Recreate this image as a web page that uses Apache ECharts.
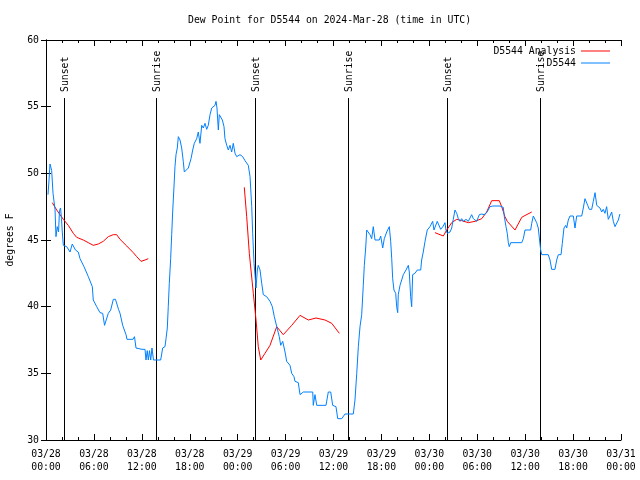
<!DOCTYPE html>
<html>
<head>
<meta charset="utf-8">
<script src="https://cdn.jsdelivr.net/npm/echarts@6/dist/echarts.min.js"></script>
<style>html,body{margin:0;padding:0;background:#fff;}#c{width:640px;height:480px;}</style>
</head>
<body>
<div id="c"></div>
<script>
// hours since 2024-03-28 00:00 UTC, dew point (F)
const obsHours = [0.25,0.38,0.50,0.63,0.71,0.88,1.13,1.25,1.41,1.57,1.69,1.82,1.94,2.04,2.17,2.59,3.01,3.29,3.51,3.69,4.04,4.26,4.47,4.76,4.95,5.30,5.38,5.51,5.80,5.92,6.35,6.76,7.10,7.33,7.58,7.80,8.10,8.43,8.70,8.85,9.08,9.27,9.60,10.02,10.14,10.89,11.08,11.27,12.02,12.40,12.52,12.68,12.81,12.96,13.11,13.27,13.46,14.36,14.61,14.90,15.03,15.19,15.31,15.44,15.61,15.74,15.86,16.03,16.15,16.28,16.44,16.57,16.78,16.99,17.19,17.32,17.53,17.82,18.03,18.16,18.37,18.57,18.87,19.07,19.28,19.50,19.70,19.91,20.12,20.32,20.54,20.75,20.95,21.16,21.29,21.41,21.58,21.70,21.91,22.08,22.29,22.41,22.63,22.83,23.04,23.25,23.45,23.67,23.88,24.29,24.63,24.92,25.13,25.33,25.55,25.76,25.88,26.05,26.17,26.30,26.46,26.58,26.80,27.01,27.21,27.63,28.05,28.34,28.59,28.89,29.21,29.39,29.64,29.93,30.14,30.34,30.55,30.77,31.05,31.18,31.59,31.81,32.02,32.22,33.06,33.40,33.47,33.68,33.90,35.06,35.35,35.65,35.90,36.31,36.53,37.03,37.44,38.48,38.69,38.91,39.11,39.32,39.53,39.73,39.86,40.03,40.16,40.36,40.57,40.78,40.98,41.20,41.73,41.91,42.16,42.36,42.66,42.99,43.16,43.29,43.41,43.57,43.79,43.91,44.04,44.11,44.33,44.54,44.74,45.08,45.37,45.49,45.66,45.79,45.91,46.20,46.49,46.92,47.04,47.24,47.46,47.74,48.08,48.42,48.58,48.99,49.21,49.42,49.75,49.96,50.08,50.25,50.59,50.80,51.00,51.21,51.43,51.63,51.84,52.05,52.25,52.59,52.88,53.09,53.30,53.51,53.72,53.93,54.26,54.56,54.85,55.18,55.60,55.93,56.85,57.06,57.26,57.39,57.60,57.76,57.89,58.01,58.19,59.57,59.77,59.98,60.69,60.82,61.02,61.23,61.44,61.64,61.86,61.94,62.07,62.89,63.11,63.32,63.73,63.95,64.15,64.49,64.65,64.86,65.08,65.20,65.40,65.61,66.03,66.24,66.45,67.08,67.28,67.49,67.70,67.83,68.03,68.33,68.53,68.75,68.96,69.16,69.37,69.58,69.78,69.99,70.20,70.41,70.62,70.83,71.04,71.25,71.46,71.66,71.87];
const obsValues = [48.4,49.5,50.7,50.4,50.2,48.5,47.3,45.25,46.0,45.6,47.2,47.4,46.6,45.6,44.6,44.5,44.1,44.7,44.7,44.25,44.1,43.6,43.6,43.0,43.0,42.25,42.4,42.25,41.5,40.5,40.0,39.55,39.5,38.6,38.6,39.5,39.75,40.55,40.55,40.5,39.8,39.5,38.6,37.9,37.55,37.55,37.75,36.9,36.8,36.8,36.0,36.7,36.0,36.7,36.0,36.9,36.0,36.0,36.9,37.0,37.6,38.4,40.0,41.75,43.6,45.4,47.1,49.05,50.5,51.4,51.9,52.75,52.5,51.9,50.9,50.1,50.25,50.4,50.25,51.1,51.75,52.25,52.6,53.1,52.25,53.6,53.4,53.75,53.3,53.6,54.4,54.9,54.8,55.1,55.4,54.9,53.25,54.4,54.5,54.0,53.5,52.6,52.1,51.75,52.1,51.6,52.25,51.5,51.25,51.4,51.25,50.95,51.1,50.6,49.75,47.5,45.5,43.25,42.4,41.4,42.75,43.1,42.75,41.75,40.9,40.75,40.4,40.0,39.25,38.5,37.75,37.1,37.4,36.6,35.9,36.0,35.6,35.0,34.75,34.4,34.3,33.4,33.4,33.6,33.6,33.6,32.6,33.4,32.6,32.6,33.6,33.6,32.6,32.5,31.6,31.6,31.95,31.95,33.0,35.0,37.0,38.5,39.4,41.6,43.1,44.4,45.75,45.6,45.4,45.1,46.0,45.0,45.0,45.3,44.4,45.1,45.6,46.0,44.9,43.6,42.1,41.25,41.0,40.0,39.55,40.9,41.6,42.0,42.4,42.75,43.1,42.6,40.75,40.0,42.4,42.5,42.75,42.75,43.5,44.1,44.9,45.75,46.0,46.4,45.75,46.4,46.4,45.8,46.05,46.3,45.75,45.5,45.6,45.9,46.55,47.25,47.0,46.6,46.4,46.6,46.4,46.55,46.4,46.5,46.9,46.6,46.7,46.4,46.9,46.95,46.9,47.05,47.5,47.55,47.55,47.4,47.45,46.75,46.0,45.5,44.8,44.5,44.8,44.8,45.1,45.75,45.75,46.25,46.8,46.8,46.3,45.9,45.75,44.25,43.9,43.9,43.5,42.8,42.8,43.5,43.9,43.9,44.75,45.9,46.1,45.9,46.5,46.8,46.8,45.9,46.8,46.8,47.4,48.1,48.0,47.6,47.3,47.3,47.9,48.55,47.6,47.6,47.4,47.1,47.3,47.0,47.5,46.55,46.8,47.1,46.4,46.0,46.0,46.5,46.95];

const anaHours1 = [0.79,1.34,2.17,2.79,3.42,3.84,4.67,5.30,5.92,6.55,7.17,7.80,8.43,8.85,9.27,10.11,10.93,11.36,11.90,12.40,12.81];
const anaValues1 = [47.8,47.25,46.55,46.1,45.5,45.2,45.0,44.8,44.6,44.7,44.9,45.25,45.4,45.4,45.05,44.55,44.05,43.75,43.4,43.5,43.6];
const anaHours2 = [24.83,25.13,25.46,25.96,26.30,26.58,26.89,27.42,28.05,28.89,29.71,30.77,31.81,32.85,33.81,34.94,35.78,36.73];
const anaValues2 = [48.95,46.75,44.0,41.0,39.0,37.0,36.0,36.5,37.1,38.5,37.9,38.6,39.35,39.0,39.15,39.0,38.75,38.0];
const anaHours3 = [48.71,49.75,50.18,50.80,51.43,52.05,52.88,53.72,54.56,55.18,55.81,56.76,57.06,57.47,57.76,58.73,59.57,59.86,60.82];
const anaValues3 = [45.55,45.3,45.75,46.3,46.55,46.45,46.3,46.4,46.6,47.1,47.95,47.95,47.5,46.75,46.4,45.75,46.7,46.8,47.1];

const sunHours = [2.2,13.8,26.2,37.85,50.25,61.8];
const sunLabels = ['Sunset','Sunrise','Sunset','Sunrise','Sunset','Sunrise'];

const tickDates = ['03/28','03/28','03/28','03/28','03/29','03/29','03/29','03/29','03/30','03/30','03/30','03/30','03/31'];
const tickTimes = ['00:00','06:00','12:00','18:00','00:00','06:00','12:00','18:00','00:00','06:00','12:00','18:00','00:00'];

const FONT = "'DejaVu Sans Mono', monospace";
const FS = 9.8;

const zip = (h, v) => h.map((t, i) => [t, v[i]]);
const anaData = zip(anaHours1, anaValues1).concat([[18, '-']], zip(anaHours2, anaValues2), [[42, '-']], zip(anaHours3, anaValues3));
const obsData = zip(obsHours, obsValues);

const chart = echarts.init(document.getElementById('c'), null, {renderer: 'canvas'});
const axisCommon = {
  axisLine: {show: true, lineStyle: {color: '#000', width: 1}},
  splitLine: {show: false}
};
chart.setOption({
  animation: false,
  backgroundColor: '#fff',
  title: {
    text: 'Dew Point for D5544 on 2024-Mar-28 (time in UTC)',
    left: 188, top: 15, padding: 0,
    textStyle: {fontFamily: FONT, fontSize: FS, fontWeight: 'normal', color: '#000'}
  },
  legend: {
    orient: 'vertical', right: 30, top: 45, align: 'right', padding: 0,
    itemWidth: 29, itemHeight: 1, itemGap: 0, icon: 'rect',
    textStyle: {fontFamily: FONT, fontSize: FS, color: '#000', lineHeight: 12},
    data: ['D5544 Analysis', 'D5544']
  },
  grid: {left: 46, right: 19, top: 40, bottom: 40, containLabel: false, outerBoundsMode: 'none'},
  xAxis: [
    Object.assign({}, axisCommon, {
      type: 'value', min: 0, max: 72, interval: 6, position: 'bottom',
      axisTick: {show: true, inside: true, length: 6, lineStyle: {color: '#000'}},
      minorTick: {show: true, splitNumber: 3, length: 3, lineStyle: {color: '#000'}},
      axisLabel: {
        margin: 8, fontFamily: FONT, fontSize: FS, color: '#000', lineHeight: 13,
        formatter: v => { const i = Math.round(v / 6); return tickDates[i] + '\n' + tickTimes[i]; }
      }
    }),
    Object.assign({}, axisCommon, {
      type: 'value', min: 0, max: 72, interval: 6, position: 'top',
      axisTick: {show: true, inside: true, length: 6, lineStyle: {color: '#000'}},
      minorTick: {show: true, splitNumber: 3, length: 3, lineStyle: {color: '#000'}},
      axisLabel: {show: false}
    })
  ],
  yAxis: [
    Object.assign({}, axisCommon, {
      type: 'value', min: 30, max: 60, interval: 5, position: 'left',
      name: 'degrees F', nameLocation: 'middle', nameRotate: 90, nameGap: 31,
      nameTextStyle: {fontFamily: FONT, fontSize: FS, color: '#000'},
      axisTick: {show: true, inside: true, length: 5, lineStyle: {color: '#000'}},
      axisLabel: {margin: 7, fontFamily: FONT, fontSize: FS, color: '#000'}
    }),
    Object.assign({}, axisCommon, {
      type: 'value', min: 30, max: 60, interval: 5, position: 'right',
      axisTick: {show: true, inside: true, length: 5, lineStyle: {color: '#000'}},
      axisLabel: {show: false}
    })
  ],
  series: [
    {
      type: 'custom', name: 'sun', silent: true,
      data: sunHours.map(t => [t, 30]),
      renderItem: function (params, api) {
        const t = api.value(0);
        const p0 = api.coord([t, 30]);
        const p1 = api.coord([t, 55.65]);
        const pl = api.coord([t, 56.1]);
        return {
          type: 'group',
          children: [
            {type: 'line', shape: {x1: Math.round(p0[0]) + 0.5, y1: p0[1], x2: Math.round(p1[0]) + 0.5, y2: p1[1]}, style: {stroke: '#000', lineWidth: 1}},
            {type: 'text', x: Math.round(pl[0]) + 1, y: pl[1], rotation: Math.PI / 2,
             style: {text: sunLabels[params.dataIndex], font: FS + 'px ' + FONT, fill: '#000', textAlign: 'left', textVerticalAlign: 'middle'}}
          ]
        };
      }
    },
    {
      type: 'line', name: 'D5544 Analysis', data: anaData, showSymbol: false, symbol: 'none',
      connectNulls: false, color: '#ff0000', lineStyle: {color: '#ff0000', width: 1}
    },
    {
      type: 'line', name: 'D5544', data: obsData, showSymbol: false, symbol: 'none',
      color: '#0080ff', lineStyle: {color: '#0080ff', width: 1}
    }
  ]
});
</script>
</body>
</html>
